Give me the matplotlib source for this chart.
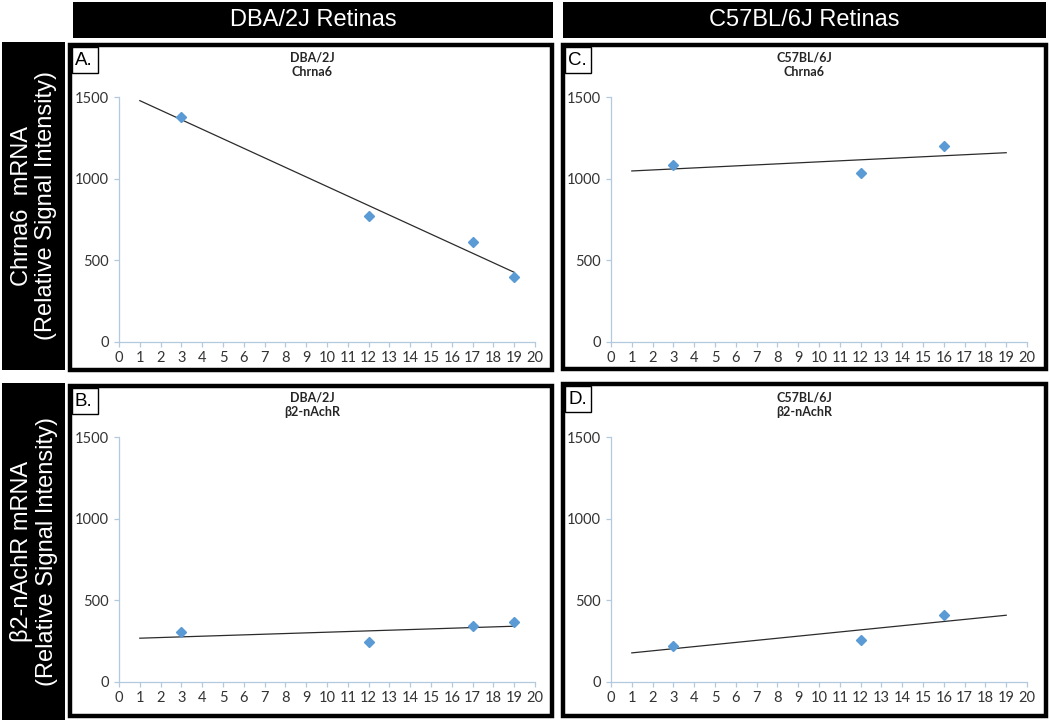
import numpy as np
import matplotlib.pyplot as plt
from matplotlib.patches import Rectangle

# data (age in months vs relative signal intensity)
dba_age = [3, 12, 17, 19]
dba_chrna6 = [1381, 773, 614, 399]
dba_b2 = [303, 245, 344, 368]

c57_age = [3, 12, 16]
c57_chrna6 = [1086, 1033, 1199]
c57_b2 = [221, 258, 411]

trend_span = [1, 19]
x_ticks = list(range(0, 21))
y_ticks = [0, 500, 1000, 1500]

col_headers = ['DBA/2J Retinas', 'C57BL/6J Retinas']
row_headers = ['Chrna6  mRNA\n(Relative Signal Intensity)',
               'β2-nAchR mRNA\n(Relative Signal Intensity)']

panels = [
    ('A.', 'DBA/2J\nChrna6', dba_age, dba_chrna6),
    ('B.', 'DBA/2J\nβ2-nAchR', dba_age, dba_b2),
    ('C.', 'C57BL/6J\nChrna6', c57_age, c57_chrna6),
    ('D.', 'C57BL/6J\nβ2-nAchR', c57_age, c57_b2),
]

W, H = 1050, 720
fig = plt.figure(figsize=(W / 100, H / 100), dpi=100)
fig.patch.set_facecolor('white')


def box(x0, y0, x1, y1):
    # pixel box (top-left origin) -> figure fraction [left, bottom, width, height]
    return [x0 / W, 1 - y1 / H, (x1 - x0) / W, (y1 - y0) / H]


def rect(x0, y0, x1, y1, **kw):
    l, b, w, h = box(x0, y0, x1, y1)
    fig.add_artist(Rectangle((l, b), w, h, transform=fig.transFigure, **kw))


head_font = ['Liberation Sans', 'DejaVu Sans']
tick_font = ['Lato', 'DejaVu Sans']

# column headers
for (x0, x1), txt in zip([(73, 553), (563, 1046)], col_headers):
    rect(x0, 2, x1, 38, facecolor='black', edgecolor='none')
    fig.text((x0 + x1) / 2 / W, 1 - 20 / H, txt, color='white', ha='center',
             va='center', fontsize=17, family=head_font)

# row headers
for (y0, y1), txt in zip([(42, 370), (383, 720)], row_headers):
    rect(2, y0, 65, y1, facecolor='black', edgecolor='none')
    fig.text(34 / W, 1 - (y0 + y1) / 2 / H, txt, color='white', ha='center',
             va='center', rotation=90, fontsize=17, family=head_font,
             linespacing=1.15, multialignment='center')

# panel frames, axes positions
frames = {'A.': (68, 43, 554, 372), 'B.': (68, 384, 554, 718),
          'C.': (561, 43, 1048, 371), 'D.': (561, 382, 1048, 718)}
axes_px = {'A.': (119, 97.3, 535, 341.7), 'B.': (119, 437.3, 535, 681.7),
           'C.': (611, 97.3, 1027, 341.7), 'D.': (611, 437.3, 1027, 681.7)}

axis_col = '#b3c9de'
for label, title, xs, ys in panels:
    fx0, fy0, fx1, fy1 = frames[label]
    rect(fx0 + 2, fy0 + 2, fx1 - 2, fy1 - 2, facecolor='none',
         edgecolor='black', linewidth=3.2)
    # little letter box
    rect(fx0 + 4, fy0 + 4, fx0 + 30, fy0 + 30, facecolor='white',
         edgecolor='black', linewidth=1.0)
    fig.text((fx0 + 7) / W, 1 - (fy0 + 17.5) / H, label, fontsize=13.5,
             family=head_font, va='center', ha='left')

    ax = fig.add_axes(box(*axes_px[label]))
    ax.set_xlim(0, 20)
    ax.set_ylim(0, 1500)
    ax.set_xticks(x_ticks)
    ax.set_yticks(y_ticks)
    for s in ['top', 'right']:
        ax.spines[s].set_visible(False)
    for s in ['left', 'bottom']:
        ax.spines[s].set_color(axis_col)
        ax.spines[s].set_linewidth(0.9)
    ax.tick_params(axis='both', direction='out', length=3.5, width=0.9,
                   color=axis_col, labelcolor='#333333', labelsize=10.5)
    ax.tick_params(axis='x', pad=3)
    ax.tick_params(axis='y', pad=4)
    for t in ax.get_xticklabels() + ax.get_yticklabels():
        t.set_family(tick_font)
    ax.set_facecolor('none')

    # linear trendline through the points
    slope, icpt = np.polyfit(xs, ys, 1)
    tx = np.array(trend_span)
    ax.plot(tx, slope * tx + icpt, color='#2b2b2b', linewidth=0.9,
            zorder=2)
    ax.plot(xs, ys, linestyle='none', marker='D', markersize=5,
            color='#5b9bd5', zorder=3, clip_on=False)

    ax.text(0.5 - 15 / 416, 1 + 19 / 244.4, title, transform=ax.transAxes,
            ha='center', va='bottom', fontsize=9, fontweight='bold',
            family=tick_font, color='#262626', linespacing=1.25)

fig.savefig('out.png', dpi=100)
